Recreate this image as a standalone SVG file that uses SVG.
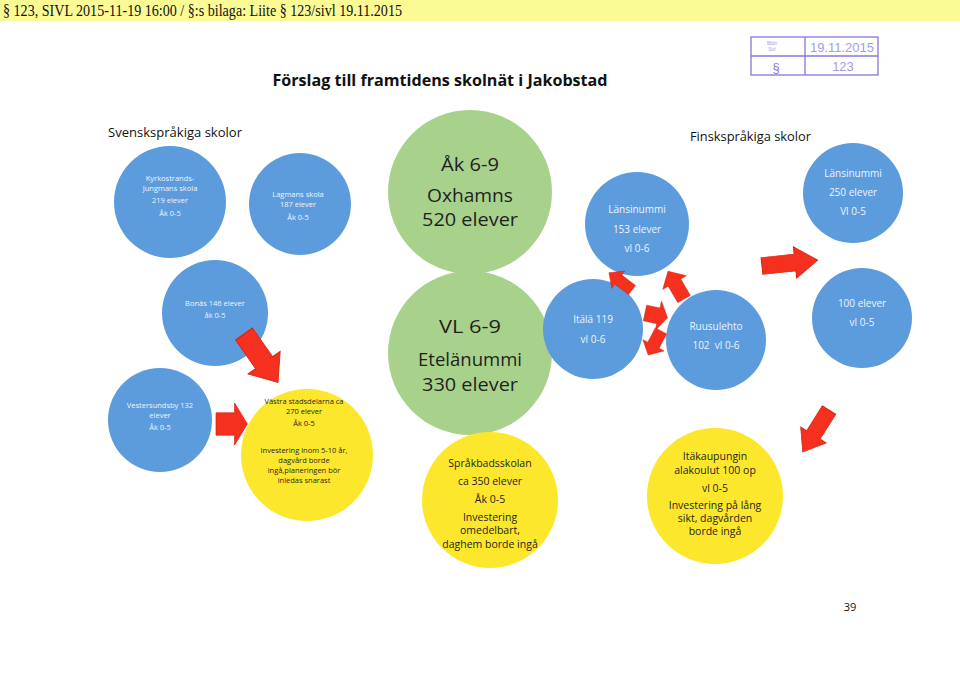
<svg xmlns="http://www.w3.org/2000/svg" width="960" height="679" viewBox="0 0 960 679">
<style>
text{font-family:"Open Sans","Noto Sans","Liberation Sans",sans-serif;text-anchor:middle}
.blue{fill:#5c9bdc}
.green{fill:#a8d28c}
.yellow{fill:#fde72c}
.wt{fill:#eef5fd}
.dk{fill:#1f1f1f}
.s8{font-size:7.5px}
.s10{font-size:10px}
.s11{font-size:10.5px}
.big{font-size:19px}
.arr{fill:#f5301f;stroke:#d82413;stroke-width:0.6}
.stamp{fill:none;stroke:#8c74d8;stroke-width:1.3}
.st{font-family:"Liberation Sans",Arial,sans-serif;fill:#a89be6}
</style>
<defs>
<path id="ba" d="M0,-8 H19 V-15 L32,0 L19,15 V8 H0 Z"/>
</defs>
<rect x="0" y="0" width="960" height="21" fill="#fbfb95"/>
<text x="3" y="16" style="font-family:'Liberation Serif','Times New Roman',serif;font-size:16px;text-anchor:start;fill:#111" textLength="399" lengthAdjust="spacingAndGlyphs">§ 123, SIVL 2015-11-19 16:00 / §:s bilaga: Liite § 123/sivl 19.11.2015</text>
<g id="stamp">
<rect class="stamp" x="751" y="37" width="127" height="38"/>
<line class="stamp" x1="751" y1="56" x2="878" y2="56"/>
<line class="stamp" x1="805" y1="37" x2="805" y2="75"/>
<text class="st" x="772" y="45" style="font-size:4.5px">Bildn</text>
<text class="st" x="772" y="51" style="font-size:4.5px">Sivl</text>
<text class="st" x="842" y="52" style="font-size:13px">19.11.2015</text>
<text class="st" x="843" y="71" style="font-size:13px">123</text>
<text x="776" y="72" style="font-family:'Liberation Sans',sans-serif;font-size:13px;fill:#8c74d8">§</text>
</g>
<text x="440" y="86" style="font-size:16px;font-weight:bold;fill:#111" textLength="335" lengthAdjust="spacingAndGlyphs">Förslag till framtidens skolnät i Jakobstad</text>
<text x="108" y="137" style="font-size:13px;text-anchor:start;fill:#111" textLength="134" lengthAdjust="spacingAndGlyphs">Svenskspråkiga skolor</text>
<text x="690" y="141" style="font-size:13px;text-anchor:start;fill:#111" textLength="121" lengthAdjust="spacingAndGlyphs">Finskspråkiga skolor</text>

<g id="kyrkostrands">
<circle class="blue" cx="170" cy="202" r="56"/>
<text class="wt s8" x="170" y="181">Kyrkostrands-</text>
<text class="wt s8" x="170" y="190.5">Jungmans skola</text>
<text class="wt s8" x="170" y="203">219 elever</text>
<text class="wt s8" x="170" y="216">Åk 0-5</text>
</g>
<g id="lagmans">
<circle class="blue" cx="300" cy="204" r="51"/>
<text class="wt s8" x="298" y="197">Lagmans skola</text>
<text class="wt s8" x="298" y="206.5">187 elever</text>
<text class="wt s8" x="298" y="220">Åk 0-5</text>
</g>
<g id="oxhamns">
<circle class="green" cx="470" cy="192" r="82"/>
<text class="dk big" x="470" y="171" textLength="58" lengthAdjust="spacingAndGlyphs">Åk 6-9</text>
<text class="dk big" x="470" y="202" textLength="86" lengthAdjust="spacingAndGlyphs">Oxhamns</text>
<text class="dk big" x="470" y="226" textLength="96" lengthAdjust="spacingAndGlyphs">520 elever</text>
</g>
<g id="etelanummi">
<circle class="green" cx="470" cy="353" r="82"/>
<text class="dk big" x="470" y="333" textLength="62" lengthAdjust="spacingAndGlyphs">VL 6-9</text>
<text class="dk big" x="470" y="366" textLength="104" lengthAdjust="spacingAndGlyphs">Etelänummi</text>
<text class="dk big" x="470" y="391" textLength="96" lengthAdjust="spacingAndGlyphs">330 elever</text>
</g>
<g id="lansinummi153">
<circle class="blue" cx="637" cy="224" r="52"/>
<text class="wt s10" x="637" y="213">Länsinummi</text>
<text class="wt s10" x="637" y="233">153 elever</text>
<text class="wt s10" x="637" y="252">vl 0-6</text>
</g>
<g id="lansinummi250">
<circle class="blue" cx="853" cy="193" r="50"/>
<text class="wt s10" x="853" y="177">Länsinummi</text>
<text class="wt s10" x="853" y="196">250 elever</text>
<text class="wt s10" x="853" y="215">Vl 0-5</text>
</g>
<g id="bonas">
<circle class="blue" cx="215" cy="313" r="53"/>
<text class="wt s8" x="215" y="306">Bonäs 146 elever</text>
<text class="wt s8" x="215" y="318">åk 0-5</text>
</g>
<g id="vestersundsby">
<circle class="blue" cx="160" cy="420" r="52"/>
<text class="wt s8" x="160" y="408">Vestersundsby 132</text>
<text class="wt s8" x="160" y="418">elever</text>
<text class="wt s8" x="160" y="430">Åk 0-5</text>
</g>
<g id="itala">
<circle class="blue" cx="593" cy="329" r="50"/>
<text class="wt s10" x="593" y="323">Itälä 119</text>
<text class="wt s10" x="593" y="343">vl 0-6</text>
</g>
<g id="ruusulehto">
<circle class="blue" cx="716" cy="340" r="50"/>
<text class="wt s10" x="716" y="330">Ruusulehto</text>
<text class="wt s10" x="716" y="349" xml:space="preserve">102  vl 0-6</text>
</g>
<g id="elever100">
<circle class="blue" cx="862" cy="318" r="50"/>
<text class="wt s10" x="862" y="307">100 elever</text>
<text class="wt s10" x="862" y="326">vl 0-5</text>
</g>
<g id="vastra">
<circle class="yellow" cx="307" cy="455" r="66"/>
<text class="dk s8" x="304" y="404">Västra stadsdelarna ca</text>
<text class="dk s8" x="304" y="414">270 elever</text>
<text class="dk s8" x="304" y="426">Åk 0-5</text>
<text class="dk s8" x="304" y="453">Investering inom 5-10 år,</text>
<text class="dk s8" x="304" y="463">dagvård borde</text>
<text class="dk s8" x="304" y="473">ingå,planeringen bör</text>
<text class="dk s8" x="304" y="483">inledas snarast</text>
</g>
<g id="sprakbad">
<circle class="yellow" cx="490" cy="500" r="68"/>
<text class="dk s11" x="490" y="467">Språkbadsskolan</text>
<text class="dk s11" x="490" y="485">ca 350 elever</text>
<text class="dk s11" x="490" y="503">Åk 0-5</text>
<text class="dk s11" x="490" y="521">Investering</text>
<text class="dk s11" x="490" y="534">omedelbart,</text>
<text class="dk s11" x="490" y="548">daghem borde ingå</text>
</g>
<g id="itakaupungin">
<circle class="yellow" cx="715" cy="496" r="68"/>
<text class="dk s11" x="715" y="460">Itäkaupungin</text>
<text class="dk s11" x="715" y="474">alakoulut 100 op</text>
<text class="dk s11" x="715" y="492">vl 0-5</text>
<text class="dk s11" x="715" y="509">Investering på lång</text>
<text class="dk s11" x="715" y="522">sikt, dagvården</text>
<text class="dk s11" x="715" y="535">borde ingå</text>
</g>

<g id="connectors">
<use href="#ba" class="arr" transform="translate(244,334) rotate(55) scale(1.85,1.3)"/>
<use href="#ba" class="arr" transform="translate(216,424) scale(0.98,1.4)"/>
<use href="#ba" class="arr" transform="translate(632,290) rotate(-143) scale(0.9,0.72)"/>
<use href="#ba" class="arr" transform="translate(684,299) rotate(-120) scale(1.0,0.9)"/>
<use href="#ba" class="arr" transform="translate(645,313) rotate(12) scale(0.72,1.0)"/>
<use href="#ba" class="arr" transform="translate(661,331) rotate(118) scale(0.85,0.8)"/>
<use href="#ba" class="arr" transform="translate(762,266) rotate(-6) scale(1.75,1.05)"/>
<use href="#ba" class="arr" transform="translate(829,410) rotate(122) scale(1.55,1.0)"/>
</g>
<text x="850" y="611" style="font-size:11px;fill:#111">39</text>
</svg>
